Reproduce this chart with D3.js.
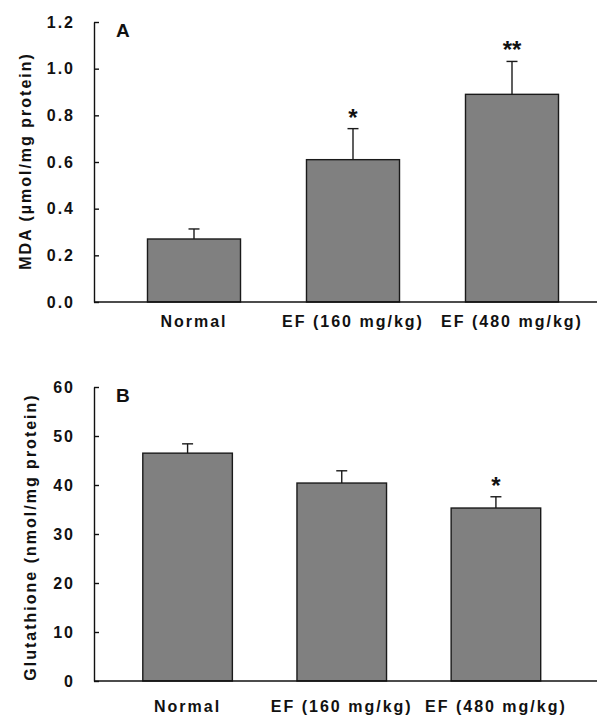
<!DOCTYPE html>
<html>
<head>
<meta charset="utf-8">
<script src="https://cdn.jsdelivr.net/npm/d3@7"></script>
<style>
  body { margin: 0; background: #fff; }
  text { font-family: "Liberation Sans", Arial, sans-serif; font-weight: bold; fill: #111; }
  .lab { font-size: 16px; letter-spacing: 2px; }
</style>
</head>
<body>
<script>
var groups = ["Normal", "EF (160 mg/kg)", "EF (480 mg/kg)"];

var mdaMean = [0.27, 0.61, 0.89];
var mdaErr = [0.043, 0.133, 0.141];
var mdaSig = ["", "*", "**"];
var mdaTicks = [0, 0.2, 0.4, 0.6, 0.8, 1.0, 1.2];

var gshMean = [46.5, 40.4, 35.3];
var gshErr = [1.9, 2.5, 2.3];
var gshSig = ["", "", "*"];
var gshTicks = [0, 10, 20, 30, 40, 50, 60];

var svg = d3.select("body").append("svg").attr("width", 597).attr("height", 720);

function panel(opt) {
  var y = d3.scaleLinear().domain([0, opt.max]).range([opt.bottom, opt.top]);
  var x = d3.scaleBand().domain(groups).range(opt.xr)
            .paddingInner(opt.pad).paddingOuter(opt.pad / 2);
  var g = svg.append("g");

  // bars
  g.selectAll("rect.bar")
    .data(opt.mean)
    .enter().append("rect")
      .attr("class", "bar")
      .attr("x", function(d,i){ return x(groups[i]); })
      .attr("y", function(d){ return y(d); })
      .attr("width", x.bandwidth())
      .attr("height", function(d){ return y(0) - y(d); })
      .attr("fill", "#808080")
      .attr("stroke", "#1a1a1a")
      .attr("stroke-width", 1.4);

  // error bars (upper only)
  var cx = function(i){ return x(groups[i]) + x.bandwidth() / 2; };
  g.selectAll("line.err")
    .data(opt.mean)
    .enter().append("line")
      .attr("class", "err")
      .attr("x1", function(d,i){ return cx(i); })
      .attr("x2", function(d,i){ return cx(i); })
      .attr("y1", function(d){ return y(d); })
      .attr("y2", function(d,i){ return y(d + opt.err[i]); })
      .attr("stroke", "#1a1a1a").attr("stroke-width", 1.4);
  g.selectAll("line.cap")
    .data(opt.mean)
    .enter().append("line")
      .attr("class", "cap")
      .attr("x1", function(d,i){ return cx(i) - 5.5; })
      .attr("x2", function(d,i){ return cx(i) + 5.5; })
      .attr("y1", function(d,i){ return y(d + opt.err[i]); })
      .attr("y2", function(d,i){ return y(d + opt.err[i]); })
      .attr("stroke", "#1a1a1a").attr("stroke-width", 1.4);

  // significance marks
  g.selectAll("text.sig")
    .data(opt.mean)
    .enter().append("text")
      .attr("class", "sig")
      .attr("x", function(d,i){ return cx(i); })
      .attr("y", function(d,i){ return y(d + opt.err[i]) - 3; })
      .attr("text-anchor", "middle")
      .attr("font-size", "24px")
      .text(function(d,i){ return opt.sig[i]; });

  // y axis, ticks pointing inward
  var yAxis = d3.axisLeft(y).tickValues(opt.ticks).tickFormat(d3.format(opt.fmt))
                .tickSizeInner(-5).tickSizeOuter(0).tickPadding(19);
  var ya = g.append("g").attr("transform", "translate(94,0)").call(yAxis);
  ya.selectAll("text").attr("class", "lab").attr("fill", "#111");
  ya.selectAll("path, line").attr("stroke", "#111").attr("stroke-width", 1.4);

  // x baseline
  g.append("line")
    .attr("x1", 94).attr("x2", 597)
    .attr("y1", y(0)).attr("y2", y(0))
    .attr("stroke", "#111").attr("stroke-width", 1.4);

  // category labels
  var xAxis = d3.axisBottom(x).tickSize(0).tickPadding(opt.labPad);
  var xa = g.append("g").attr("transform", "translate(0," + y(0) + ")").call(xAxis);
  xa.select(".domain").remove();
  xa.selectAll("text").attr("class", "lab").attr("fill", "#111");

  // y title
  g.append("text")
    .attr("class", "lab")
    .attr("transform", "translate(" + opt.titleX + "," + opt.titleY + ") rotate(-90)")
    .attr("text-anchor", "middle")
    .text(opt.title);

  // panel letter
  g.append("text")
    .attr("x", 116).attr("y", opt.top + 15)
    .attr("font-size", "19px")
    .text(opt.letter);
}

panel({
  mean: mdaMean, err: mdaErr, sig: mdaSig, ticks: mdaTicks, fmt: ".1f",
  max: 1.2, top: 22, bottom: 302, xr: [114.5, 591.5], pad: 0.415, labPad: 14,
  title: "MDA (\u00b5mol/mg protein)", titleX: 31, titleY: 161, letter: "A"
});

panel({
  mean: gshMean, err: gshErr, sig: gshSig, ticks: gshTicks, fmt: "d",
  max: 60, top: 387, bottom: 681, xr: [110.5, 573], pad: 0.419, labPad: 20,
  title: "Glutathione (nmol/mg protein)", titleX: 36, titleY: 537, letter: "B"
});
</script>
</body>
</html>
